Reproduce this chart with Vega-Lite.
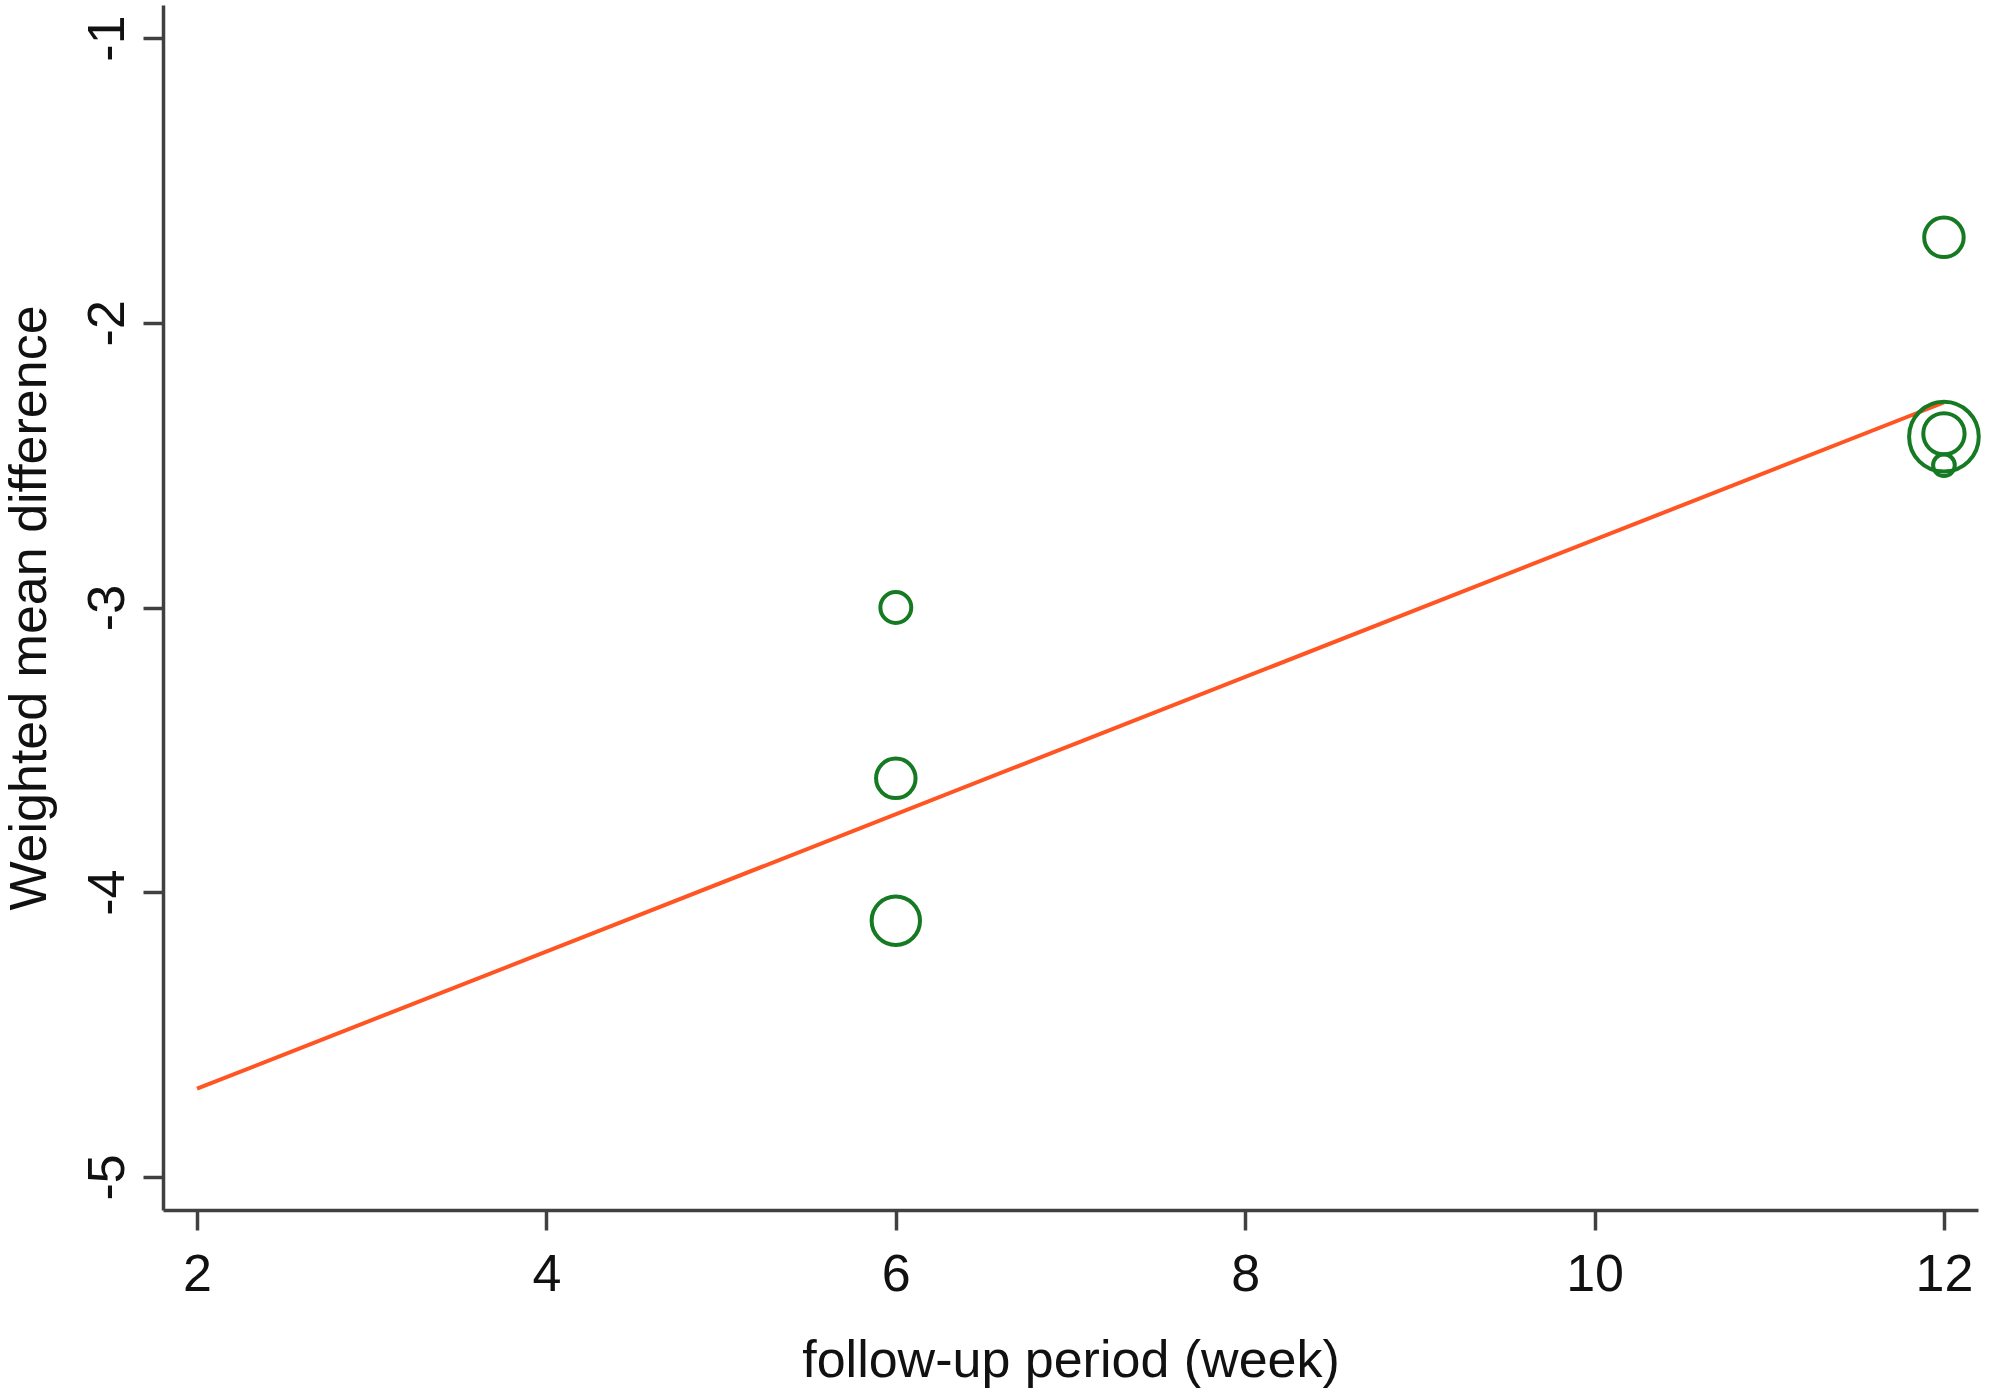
{
  "$schema": "https://vega.github.io/schema/vega-lite/v6.json",
  "width": 1815,
  "height": 1205,
  "autosize": "none",
  "padding": {"left": 163, "top": 5, "right": 17, "bottom": 185},
  "background": "white",
  "config": {"view": {"stroke": null}, "font": "Liberation Sans"},
  "datasets": {
    "studies": [
      {"week": 6, "wmd": -3.0, "weight": 7.1},
      {"week": 6, "wmd": -3.6, "weight": 11.6},
      {"week": 6, "wmd": -4.1, "weight": 17.4},
      {"week": 12, "wmd": -1.7, "weight": 11.6},
      {"week": 12, "wmd": -2.4, "weight": 36.1},
      {"week": 12, "wmd": -2.39, "weight": 12.7},
      {"week": 12, "wmd": -2.5, "weight": 3.5}
    ],
    "fit": [
      {"week": 2, "wmd": -4.69},
      {"week": 12, "wmd": -2.28}
    ]
  },
  "encoding": {
    "x": {
      "field": "week",
      "type": "quantitative",
      "scale": {"domain": [1.805, 12.195], "nice": false, "zero": false},
      "axis": {
        "values": [2, 4, 6, 8, 10, 12],
        "title": "follow-up period (week)",
        "grid": false,
        "labelFontSize": 52,
        "titleFontSize": 52,
        "titleFontWeight": "normal",
        "labelColor": "#111111",
        "titleColor": "#111111",
        "tickSize": 20,
        "tickWidth": 3.5,
        "tickColor": "#404040",
        "domainWidth": 3.5,
        "domainColor": "#404040",
        "labelPadding": 19,
        "labelFlush": false,
        "labelOverlap": false,
        "titleY": 166,
        "titleBaseline": "alphabetic"
      }
    },
    "y": {
      "field": "wmd",
      "type": "quantitative",
      "scale": {"domain": [-5.116, -0.884], "nice": false, "zero": false},
      "axis": {
        "values": [-5, -4, -3, -2, -1],
        "labelExpr": "toString(datum.value)",
        "title": "Weighted mean difference",
        "grid": false,
        "labelFontSize": 52,
        "titleFontSize": 52,
        "titleFontWeight": "normal",
        "labelColor": "#111111",
        "titleColor": "#111111",
        "labelAngle": -90,
        "labelAlign": "center",
        "labelBaseline": "bottom",
        "labelPadding": 9,
        "labelFlush": false,
        "labelOverlap": false,
        "tickSize": 20,
        "tickWidth": 3.5,
        "tickColor": "#404040",
        "domainWidth": 3.5,
        "domainColor": "#404040",
        "titleAngle": 270,
        "titleX": -118,
        "titleBaseline": "alphabetic"
      }
    }
  },
  "layer": [
    {
      "data": {"name": "fit"},
      "mark": {"type": "line", "color": "#ff5522", "strokeWidth": 4}
    },
    {
      "data": {"name": "studies"},
      "mark": {"type": "point", "shape": "circle", "filled": false, "color": "#157a22", "strokeWidth": 4, "opacity": 1},
      "encoding": {
        "size": {
          "field": "weight",
          "type": "quantitative",
          "scale": {"type": "linear", "domain": [0, 40], "range": [0, 5380], "zero": true},
          "legend": null
        }
      }
    }
  ]
}
